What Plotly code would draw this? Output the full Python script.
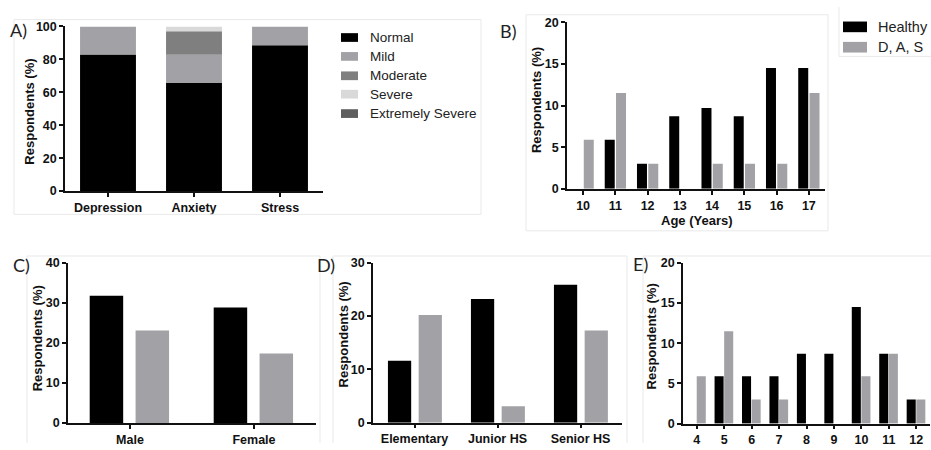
import plotly.graph_objects as go

# ---------------- data ----------------
# Panel A: DASS severity distribution (%)
severity_categories = ["Depression", "Anxiety", "Stress"]
severity_levels = ["Normal", "Mild", "Moderate", "Severe", "Extremely Severe"]
normal = [83.0, 65.7, 88.6]
mild = [17.0, 17.1, 11.4]
moderate = [0.0, 14.2, 0.0]
severe = [0.0, 3.0, 0.0]
extremely_severe = [0.0, 0.0, 0.0]

# Panel B: by age
ages = ["10", "11", "12", "13", "14", "15", "16", "17"]
healthy_age = [0.0, 5.9, 3.0, 8.7, 9.7, 8.7, 14.5, 14.5]
das_age = [5.9, 11.5, 3.0, 0.0, 3.0, 3.0, 3.0, 11.5]

# Panel C: by gender
genders = ["Male", "Female"]
healthy_gender = [31.8, 28.9]
das_gender = [23.1, 17.4]

# Panel D: by school level
school_levels = ["Elementary", "Junior HS", "Senior HS"]
healthy_school = [11.6, 23.2, 25.9]
das_school = [20.2, 3.1, 17.3]

# Panel E: by grade
grades = ["4", "5", "6", "7", "8", "9", "10", "11", "12"]
healthy_grade = [0.0, 5.9, 5.9, 5.9, 8.7, 8.7, 14.5, 8.7, 3.0]
das_grade = [5.9, 11.5, 3.0, 3.0, 0.0, 0.0, 5.9, 8.7, 3.0]

group_names = ["Healthy", "D, A, S"]

# ---------------- styling ----------------
W, H = 931, 450
BLACK = "#000000"
GRAY = "#a2a2a6"
sev_colors = ["#000000", "#a2a2a6", "#7f7f7f", "#d9d9d9", "#5e5e5e"]
TICK_FONT = dict(family="Liberation Sans, Arial", size=12.5, color="#111111", weight=700)
TITLE_FONT = dict(family="Liberation Sans, Arial", size=13, color="#111111", weight=700)
LETTER_FONT = dict(family="Lato, Open Sans", size=18, color="#222222")
LEG_FONT = dict(family="Liberation Sans, Arial", size=13.5, color="#222222")


def xd(a, b):
    return [a / W, b / W]


def yd(top, bottom):
    return [1 - bottom / H, 1 - top / H]


def px(x):
    return x / W


def py(y):
    return 1 - y / H


fig = go.Figure()

# Panel A: stacked bars via base
bases = [0.0, 0.0, 0.0]
for name, vals, col in zip(severity_levels,
                           [normal, mild, moderate, severe, extremely_severe],
                           sev_colors):
    fig.add_trace(go.Bar(x=severity_categories, y=vals, base=list(bases), name=name,
                         marker=dict(color=col, line=dict(width=0)),
                         width=0.65, xaxis="x", yaxis="y", showlegend=False))
    bases = [b + v for b, v in zip(bases, vals)]


def grouped(cats, h, d, xa, ya, w, off_h, off_d):
    fig.add_trace(go.Bar(x=cats, y=h, name=group_names[0], width=w, offset=off_h,
                         marker=dict(color=BLACK, line=dict(width=0)),
                         xaxis=xa, yaxis=ya, showlegend=False))
    fig.add_trace(go.Bar(x=cats, y=d, name=group_names[1], width=w, offset=off_d,
                         marker=dict(color=GRAY, line=dict(width=0)),
                         xaxis=xa, yaxis=ya, showlegend=False))


grouped(ages, healthy_age, das_age, "x2", "y2", 0.31, -0.33, 0.02)
grouped(genders, healthy_gender, das_gender, "x3", "y3", 0.27, -0.325, 0.045)
grouped(school_levels, healthy_school, das_school, "x4", "y4", 0.28, -0.32, 0.05)
grouped(grades, healthy_grade, das_grade, "x5", "y5", 0.33, -0.35, 0.0)

axis_common = dict(showline=True, linecolor="#111111", linewidth=1.5, ticks="outside",
                   ticklen=4, tickwidth=1.5, tickcolor="#111111", showgrid=False,
                   zeroline=False, tickfont=TICK_FONT, fixedrange=True)

panels = [
    # (x domain px, y top/bottom px, categories, ymax, dtick)
    ((65, 323), (20, 190), severity_categories, 100, 20),
    ((567, 825), (15.7, 187.7), ages, 20, 5),
    ((68, 316), (264.3, 429.3), genders, 40, 10),
    ((373, 622), (264, 429), school_levels, 30, 10),
    ((683, 930), (264, 430), grades, 20, 5),
]

layout = dict(width=W, height=H, margin=dict(l=0, r=0, t=0, b=0),
              paper_bgcolor="white", plot_bgcolor="white", barmode="overlay",
              showlegend=False)
for i, (xdom, ydom, cats, ymax, dt) in enumerate(panels, start=1):
    sx = "" if i == 1 else str(i)
    layout["xaxis" + sx] = dict(axis_common, domain=xd(*xdom), type="category",
                                categoryorder="array", categoryarray=cats,
                                range=[-0.5, len(cats) - 0.5],
                                anchor="y" + sx)
    layout["yaxis" + sx] = dict(axis_common, domain=yd(*ydom), range=[0, ymax],
                                tickmode="linear", tick0=0, dtick=dt,
                                anchor="x" + sx)
fig.update_layout(**layout)

annotations = []
# Panel letters
for txt, (x, y) in zip(["A)", "B)", "C)", "D)", "E)"],
                       [(18, 24), (508, 25), (21, 266), (326, 266), (640, 265)]):
    annotations.append(dict(text=txt, x=px(x), y=py(y), xref="paper", yref="paper",
                            showarrow=False, font=LETTER_FONT, xanchor="center",
                            yanchor="middle"))
# Y titles
for (x, y) in [(30, 108), (536, 96), (37, 342), (343, 338), (651, 340)]:
    annotations.append(dict(text="Respondents (%)", x=px(x), y=py(y), xref="paper",
                            yref="paper", showarrow=False, textangle=-90,
                            font=TITLE_FONT, xanchor="center", yanchor="middle"))
# X title panel B
annotations.append(dict(text="Age (Years)", x=px(697), y=py(220), xref="paper",
                        yref="paper", showarrow=False, font=TITLE_FONT,
                        xanchor="center", yanchor="middle"))

shapes = []
FRAME = "#e9e9e9"


def line(x0, y0, x1, y1):
    shapes.append(dict(type="line", xref="paper", yref="paper", x0=px(x0), y0=py(y0),
                       x1=px(x1), y1=py(y1), line=dict(color=FRAME, width=1)))


# faint panel frames
line(14, 13, 481, 13); line(14, 13, 14, 214); line(14, 214, 481, 214); line(481, 13, 481, 214)
line(526, 8, 828, 8); line(526, 8, 526, 231); line(526, 231, 828, 231); line(828, 8, 828, 231)
line(839, 0, 839, 51); line(839, 51, 931, 51)
line(27, 257, 320, 257); line(27, 257, 27, 450); line(320, 257, 320, 450)
line(333, 257, 627, 257); line(333, 257, 333, 450); line(627, 257, 627, 450)
line(643, 257, 931, 257); line(643, 257, 643, 450)

# Legend A
for k, (name, col) in enumerate(zip(severity_levels, sev_colors)):
    cy = [31.5, 51, 71, 90, 110][k]
    shapes.append(dict(type="rect", xref="paper", yref="paper", x0=px(341), x1=px(358),
                       y0=py(cy + 4.5), y1=py(cy - 4.5), fillcolor=col,
                       line=dict(width=0)))
    annotations.append(dict(text=name, x=px(368), y=py(cy), xref="paper", yref="paper",
                            showarrow=False, font=LEG_FONT, xanchor="left",
                            yanchor="middle"))

# Legend B
for k, (name, col) in enumerate(zip(group_names, [BLACK, GRAY])):
    cy = [20.5, 41.5][k]
    shapes.append(dict(type="rect", xref="paper", yref="paper", x0=px(843), x1=px(867),
                       y0=py(cy + 5.5), y1=py(cy - 5.5), fillcolor=col,
                       line=dict(width=0)))
    annotations.append(dict(text=name, x=px(876), y=py(cy), xref="paper", yref="paper",
                            showarrow=False, font=dict(LEG_FONT, size=14.5),
                            xanchor="left", yanchor="middle"))

fig.update_layout(annotations=annotations, shapes=shapes)

fig.write_html("out.html",
               config={"displayModeBar": False},
               post_script="document.body.style.margin='0';"
                           "document.body.style.overflow='hidden';")
